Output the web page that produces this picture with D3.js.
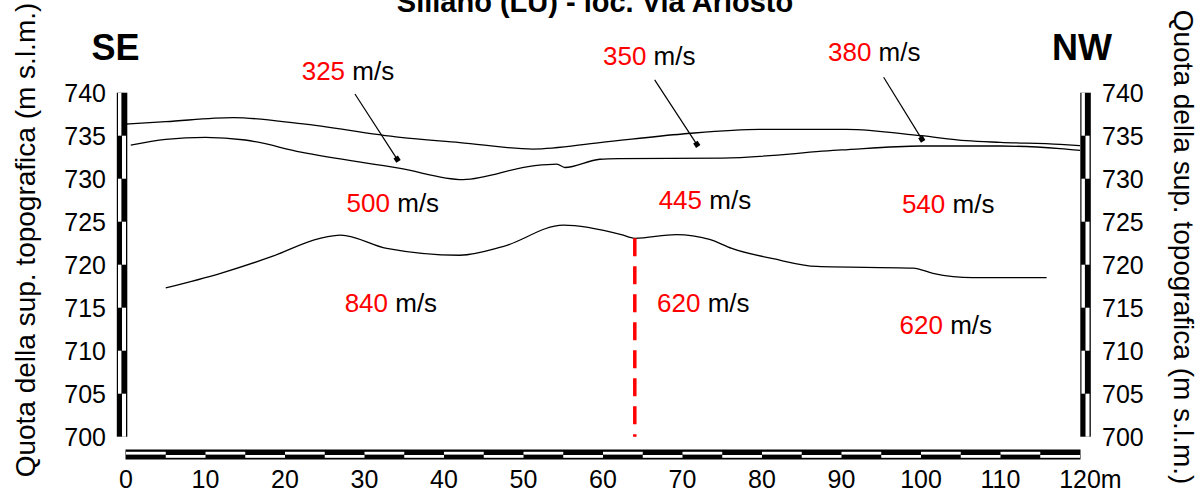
<!DOCTYPE html>
<html>
<head>
<meta charset="utf-8">
<script src="https://cdn.jsdelivr.net/npm/d3@7"></script>
<style>
  html, body { margin: 0; padding: 0; background: #fff; }
  svg { display: block; font-family: "Liberation Sans", Arial, Helvetica, sans-serif; }
</style>
</head>
<body>
<svg id="chart" width="1198" height="489"></svg>
<script>
// Section distances (m) and elevations (m s.l.m.) of the interpreted surfaces
const topoStation = [0, 5, 13.5, 22, 34.5, 42, 51.2, 59.6, 70, 79.7, 90.6, 100, 105.7, 110, 117.5, 120];
const topoElev    = [736.36, 736.63, 737.1, 736.4, 734.8, 734.2, 733.45, 734.2, 735.2, 735.74, 735.74, 735.0, 734.42, 734.23, 734.0, 733.85];

const refr1Station = [0.6, 5, 10, 15, 22, 34.5, 42.4, 51.2, 54.2, 55.2, 59.6, 62, 75, 90, 100, 110, 117.5, 120];
const refr1Elev    = [733.9, 734.58, 734.81, 734.5, 733.1, 731.2, 729.9, 731.5, 731.7, 731.3, 732.26, 732.33, 732.4, 733.34, 733.8, 733.8, 733.5, 733.3];

const refr2Station = [5, 11.9, 18.2, 24.4, 27, 32.8, 42, 47.4, 55, 62.3, 64, 69.2, 73.4, 76.2, 81.4, 86.9, 99, 101.5, 106.5, 115.8];
const refr2Elev    = [717.3, 719.0, 720.9, 723.07, 723.45, 721.9, 721.1, 722.1, 724.6, 723.5, 723.07, 723.5, 722.95, 721.9, 720.7, 719.8, 719.6, 719.0, 718.5, 718.5];

// Lateral discontinuity
const faultStation = 64;
const faultElev = [700, 723.07];

// Seismic velocities (m/s) and their anchor points (station, elevation)
const velocityValues  = ["325", "350", "380", "500", "445", "540", "840", "620", "620"];
const velocityStation = [22.1, 60.0, 88.3, 27.75, 67.0, 97.6, 27.5, 66.8, 97.3];
const velocityElev    = [741.5, 743.2, 743.7, 726.16, 726.48, 726.0, 714.5, 714.47, 712.0];

// Leader lines from the surface labels down to the first layer
const leaderFrom = [[28.8, 739.85], [66.5, 741.5], [95.3, 741.8]];
const leaderTo   = [[34.1, 732.27], [71.8, 734.0], [100.1, 734.6]];

// Axis ticks
const xTicks = [0, 10, 20, 30, 40, 50, 60, 70, 80, 90, 100, 110, 120];
const yTicks = [700, 705, 710, 715, 720, 725, 730, 735, 740];

const titleText = "Sillano (LU) - loc. Via Ariosto";
const yTitle = "Quota della sup. topografica (m s.l.m.)";

const svg = d3.select("#chart");
const font = 25;

const x = d3.scaleLinear().domain([0, 120]).range([126, 1080]);
const y = d3.scaleLinear().domain([700, 740]).range([436.7, 92.7]);

// Title (runs off the top edge)
svg.append("text")
  .attr("x", 595).attr("y", 11.5)
  .attr("text-anchor", "middle")
  .attr("font-size", 29).attr("font-weight", "bold")
  .text(titleText);

// Direction labels
svg.append("text").attr("x", 91.5).attr("y", 60)
  .attr("font-size", 36).attr("font-weight", "bold").text("SE");
svg.append("text").attr("x", 1112).attr("y", 60).attr("text-anchor", "end")
  .attr("font-size", 36).attr("font-weight", "bold").text("NW");

// Vertical axis titles
svg.append("text")
  .attr("transform", "translate(35,240) rotate(-90)")
  .attr("text-anchor", "middle").attr("font-size", 28)
  .text(yTitle);
svg.append("text")
  .attr("transform", "translate(1174,247) rotate(90)")
  .attr("text-anchor", "middle").attr("font-size", 28)
  .text(yTitle);

// Checkered scale bars
const segs = d3.range(700, 740, 5);
function vBar(x0) {
  const g = svg.append("g");
  g.append("rect").attr("x", x0).attr("y", y(740))
    .attr("width", 10.5).attr("height", y(700) - y(740)).attr("fill", "#000");
  g.selectAll("rect.w").data(segs).join("rect").attr("class", "w")
    .attr("x", d => ((740 - d - 5) / 5) % 2 === 0 ? x0 + 1.2 : x0 + 5.2)
    .attr("width", d => ((740 - d - 5) / 5) % 2 === 0 ? 3.4 : 4)
    .attr("y", d => y(d + 5))
    .attr("height", d => y(d) - y(d + 5))
    .attr("fill", "#fff");
}
vBar(116.8);
vBar(1080.3);

const xsegs = d3.range(0, 120, 5);
const hb = svg.append("g");
hb.append("rect").attr("x", x(0) - 0.5).attr("y", 449.5)
  .attr("width", x(120) - x(0) + 1).attr("height", 10).attr("fill", "#000");
hb.selectAll("rect.w").data(xsegs).join("rect").attr("class", "w")
  .attr("x", d => x(d))
  .attr("width", d => x(d + 5) - x(d))
  .attr("y", d => (d / 5) % 2 === 0 ? 451.8 : 455)
  .attr("height", 2.8)
  .attr("fill", "#fff");

// Tick labels
svg.append("g").selectAll("text").data(yTicks).join("text")
  .attr("x", 106).attr("y", d => y(d)).attr("dy", "0.36em")
  .attr("text-anchor", "end").attr("font-size", font).text(d => d);
svg.append("g").selectAll("text").data(yTicks).join("text")
  .attr("x", 1102).attr("y", d => y(d)).attr("dy", "0.36em")
  .attr("text-anchor", "start").attr("font-size", font).text(d => d);
const xt = svg.append("g").selectAll("text").data(xTicks).join("text")
  .attr("x", d => x(d)).attr("y", 487.5)
  .attr("text-anchor", "middle").attr("font-size", font).text(d => d);
// unit after the last distance label
const last = xt.filter(d => d === 120).node();
const lastW = last.getComputedTextLength();
svg.append("text").attr("x", x(120) + lastW / 2).attr("y", 487.5)
  .attr("font-size", font).text("m");

// Surfaces
const line = d3.line().x(d => x(d[0])).y(d => y(d[1])).curve(d3.curveMonotoneX);
function drawLine(st, el) {
  svg.append("path")
    .attr("d", line(st.map((s, i) => [s, el[i]])))
    .attr("fill", "none").attr("stroke", "#000").attr("stroke-width", 1.3);
}
drawLine(topoStation, topoElev);
drawLine(refr1Station, refr1Elev);
drawLine(refr2Station, refr2Elev);

// Lateral discontinuity (dashed red)
svg.append("line")
  .attr("x1", x(faultStation)).attr("x2", x(faultStation))
  .attr("y1", y(faultElev[1])).attr("y2", y(faultElev[0]))
  .attr("stroke", "#ff0000").attr("stroke-width", 3.5)
  .attr("stroke-dasharray", "18,10");

// Leaders with square ends
leaderFrom.forEach((f, i) => {
  const t = leaderTo[i];
  const x1 = x(f[0]), y1 = y(f[1]), x2 = x(t[0]), y2 = y(t[1]);
  svg.append("line").attr("x1", x1).attr("y1", y1).attr("x2", x2).attr("y2", y2)
    .attr("stroke", "#000").attr("stroke-width", 1.2);
  const ang = Math.atan2(y2 - y1, x2 - x1) * 180 / Math.PI;
  svg.append("rect").attr("x", -2.6).attr("y", -2.6).attr("width", 5.2).attr("height", 5.2)
    .attr("transform", `translate(${x2},${y2}) rotate(${ang})`).attr("fill", "#000");
});

// Velocity labels
velocityValues.forEach((v, i) => {
  const t = svg.append("text")
    .attr("x", x(velocityStation[i])).attr("y", y(velocityElev[i]))
    .attr("font-size", 26);
  t.append("tspan").attr("fill", "#ff0000").text(v);
  t.append("tspan").attr("fill", "#000").text(" m/s");
});
</script>
</body>
</html>
